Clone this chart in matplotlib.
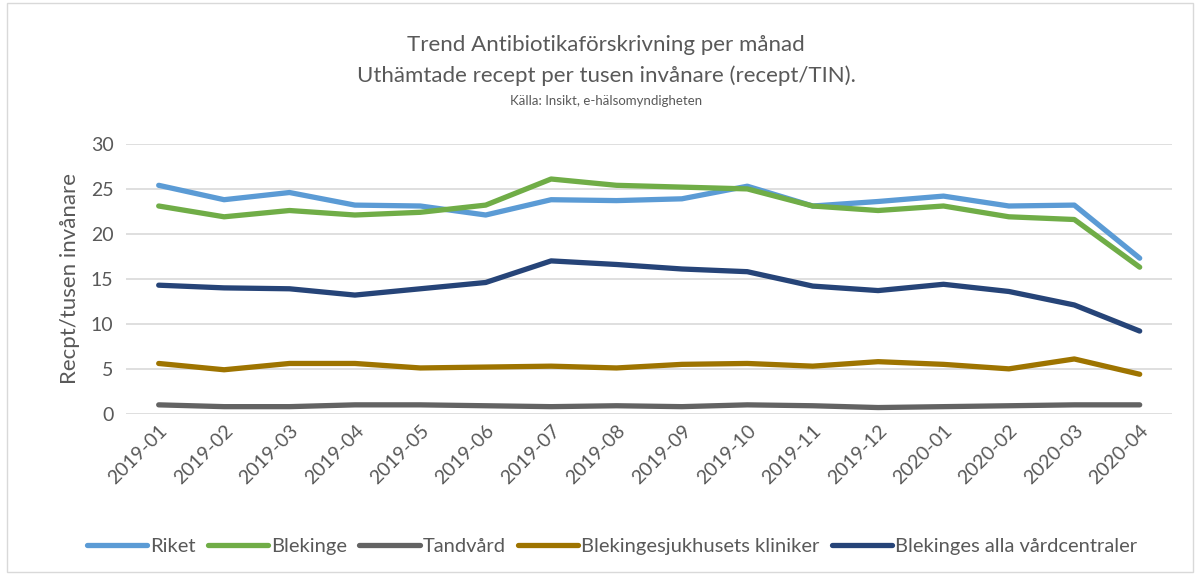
import matplotlib.pyplot as plt
from matplotlib.patches import Rectangle

plt.rcParams['font.family'] = ['Lato', 'DejaVu Sans']

months = ['2019-01', '2019-02', '2019-03', '2019-04', '2019-05', '2019-06',
          '2019-07', '2019-08', '2019-09', '2019-10', '2019-11', '2019-12',
          '2020-01', '2020-02', '2020-03', '2020-04']

riket = [25.4, 23.8, 24.6, 23.2, 23.1, 22.1, 23.8, 23.7, 23.9, 25.3,
         23.1, 23.6, 24.2, 23.1, 23.2, 17.3]
blekinge = [23.1, 21.9, 22.6, 22.1, 22.4, 23.2, 26.1, 25.4, 25.2, 25.0,
            23.1, 22.6, 23.1, 21.9, 21.6, 16.3]
tandvard = [1.0, 0.8, 0.8, 1.0, 1.0, 0.9, 0.8, 0.9, 0.8, 1.0,
            0.9, 0.7, 0.8, 0.9, 1.0, 1.0]
kliniker = [5.6, 4.9, 5.6, 5.6, 5.1, 5.2, 5.3, 5.1, 5.5, 5.6,
            5.3, 5.8, 5.5, 5.0, 6.1, 4.4]
vardcentraler = [14.3, 14.0, 13.9, 13.2, 13.9, 14.6, 17.0, 16.6, 16.1, 15.8,
                 14.2, 13.7, 14.4, 13.6, 12.1, 9.2]

series = [
    ('Riket', riket, '#5B9BD5'),
    ('Blekinge', blekinge, '#70AD47'),
    ('Tandvård', tandvard, '#636363'),
    ('Blekingesjukhusets kliniker', kliniker, '#9E7400'),
    ('Blekinges alla vårdcentraler', vardcentraler, '#264478'),
]

fig = plt.figure(figsize=(12, 5.78), dpi=100)
ax = fig.add_axes([0.105, 0.284, 0.872, 0.467])

x = range(len(months))
for name, vals, color in series:
    ax.plot(x, vals, color=color, lw=3.8, label=name,
            solid_capstyle='round', solid_joinstyle='round')

ax.set_xlim(-0.5, len(months) - 0.5)
ax.set_ylim(0, 30)
ax.set_yticks(range(0, 31, 5))
ax.set_xticks(list(x))
ax.set_xticklabels(months, rotation=45, ha='right', rotation_mode='anchor')
ax.tick_params(axis='both', length=0, labelsize=14, colors='#595959', pad=9)
ax.tick_params(axis='x', pad=6)
ax.grid(axis='y', color='#D9D9D9', lw=1.2)
ax.set_axisbelow(True)
for s in ax.spines.values():
    s.set_visible(False)
ax.set_ylabel('Recpt/tusen invånare', fontsize=16, color='#595959', labelpad=8)

fig.text(0.505, 0.922, 'Trend Antibiotikaförskrivning per månad',
         ha='center', va='center', fontsize=16, color='#595959')
fig.text(0.505, 0.869, 'Uthämtade recept per tusen invånare (recept/TIN).',
         ha='center', va='center', fontsize=16, color='#595959')
fig.text(0.505, 0.826, 'Källa: Insikt, e-hälsomyndigheten',
         ha='center', va='center', fontsize=9.5, color='#595959')

leg = fig.legend(loc='center', bbox_to_anchor=(0.51, 0.054), ncol=5,
                 frameon=False, fontsize=14.5, handlelength=3.0,
                 handletextpad=0.15, columnspacing=0.6)
for t in leg.get_texts():
    t.set_color('#595959')

fig.patches.append(Rectangle((0.006, 0.01), 0.988, 0.985, transform=fig.transFigure,
                             fill=False, edgecolor='#D9D9D9', lw=1))

fig.savefig('out.png', dpi=100)
